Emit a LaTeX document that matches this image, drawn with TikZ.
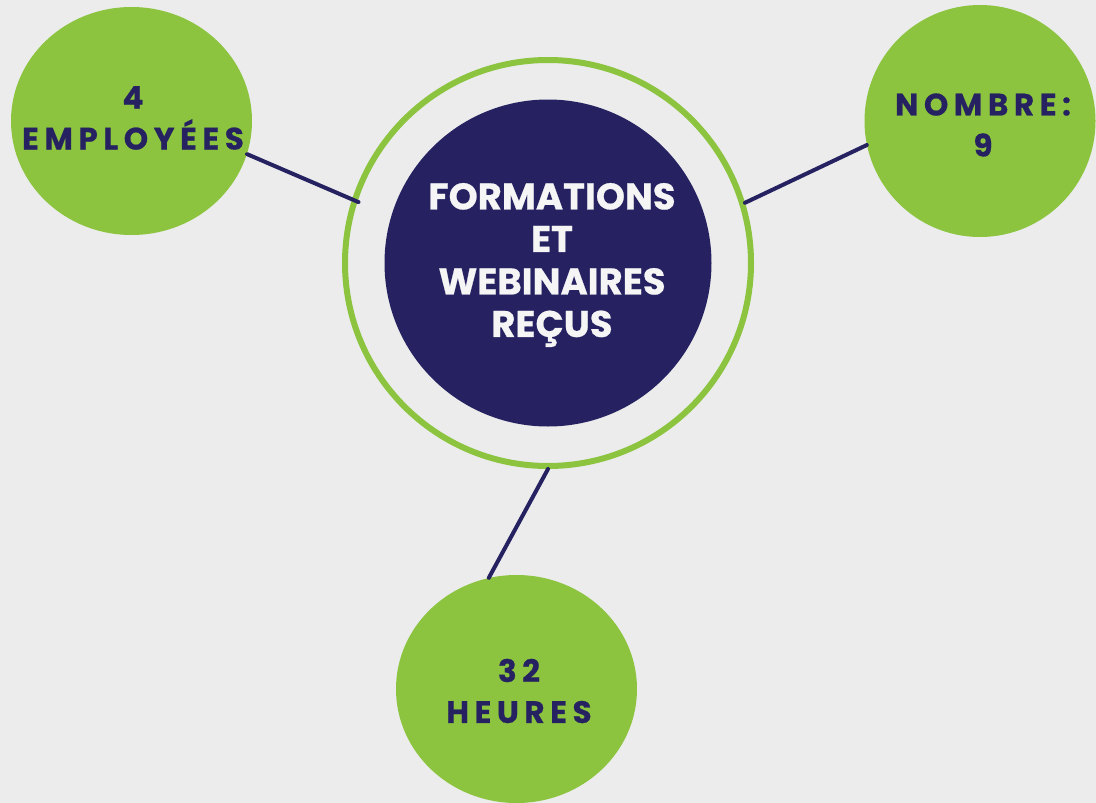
\documentclass[tikz,border=0pt]{standalone}
\usepackage{fontspec}
\usetikzlibrary{shapes.geometric}
\newfontfamily\popfont{Poppins}[BoldFont={* Bold},BoldFeatures={FakeBold=0.6}]
\newfontfamily\popspaced{Poppins}[BoldFont={* Bold},BoldFeatures={FakeBold=0.6},LetterSpace=18]
\definecolor{bgc}{HTML}{EBECEB}
\definecolor{grn}{HTML}{8CC43F}
\definecolor{navy}{HTML}{262262}
\definecolor{wht}{HTML}{F5F5F5}
\tikzset{
  bubble/.style={ellipse, fill=grn, inner sep=0pt},
  bubbletext/.style={align=center, text=navy, inner sep=0pt,
    font={\popspaced\bfseries\fontsize{31}{41}\selectfont}},
  link/.style={draw=navy, line width=4pt, line cap=round},
}
\begin{document}
\begin{tikzpicture}[x=1pt,y=-1pt]
\fill[bgc] (0,0) rectangle (1096,803);
\useasboundingbox (0,0) rectangle (1096,803);
% central ring and disc
\node[circle, draw=grn, line width=6pt, minimum size=406pt, inner sep=0pt] (ring) at (548,263) {};
\node[circle, fill=navy, minimum size=327pt, inner sep=0pt] (core) at (548,263) {};
\node[align=center, text=wht, inner sep=0pt,
  font={\popfont\bfseries\fontsize{37}{42.5}\selectfont}] (coretext) at (552,265)
  {FORMATIONS\\ET\\WEBINAIRES\\REÇUS};
% satellites
\node[bubble, minimum width=241pt, minimum height=228pt] (emp) at (131.5,121) {};
\node[bubble, minimum width=231pt, minimum height=232pt] (nb) at (980,121) {};
\node[bubble, minimum width=241pt, minimum height=228pt] (hrs) at (516.5,689) {};
\node[bubbletext] (emptext) at (133,118) {4\\EMPLOYÉES};
\node[bubbletext] (nbtext) at (983,125) {NOMBRE:\\9};
\node[bubbletext] (hrstext) at (519,691) {32\\HEURES};
% connectors
\draw[link, shorten >=-7pt] (emp.-16.6) -- (ring.162.7);
\draw[link] (nb.-168) -- (ring.17.3);
\draw[link] (hrs.104) -- (ring.-90);
\end{tikzpicture}
\end{document}
